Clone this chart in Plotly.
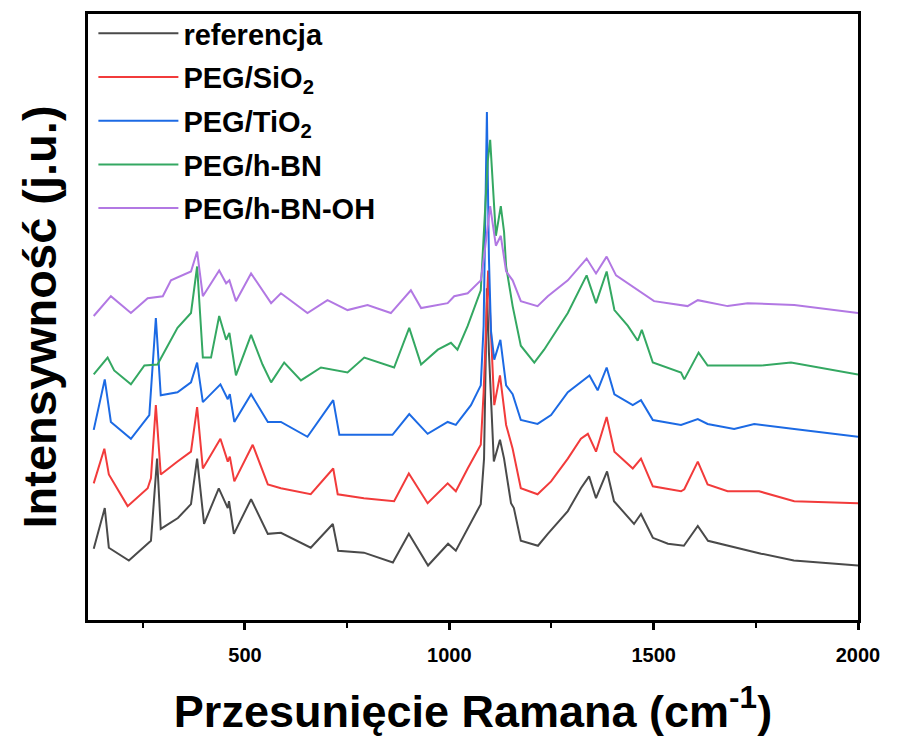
import plotly.graph_objects as go

# Raman shift (cm^-1) and intensity (a.u.)
ref_x = [130, 157, 167, 216, 270, 285, 294, 336, 368, 383, 400, 436, 458, 461, 473, 515, 556, 588, 661, 715, 728, 791, 862, 901, 948, 997, 1016, 1046, 1077, 1085, 1092, 1097, 1109, 1124, 1134, 1151, 1158, 1175, 1217, 1241, 1290, 1322, 1342, 1359, 1386, 1403, 1425, 1452, 1469, 1498, 1535, 1574, 1608, 1633, 1763, 1843, 2000]
ref_y = [72, 113, 73, 60, 80, 163, 92, 103, 117, 163, 97, 133, 113, 120, 87, 122, 87, 88, 73, 97, 70, 68, 58, 87, 55, 77, 70, 93, 117, 163, 335, 270, 160, 182, 163, 118, 113, 80, 75, 87, 110, 133, 145, 123, 150, 120, 110, 97, 107, 83, 77, 75, 95, 80, 67, 60, 55]

sio2_x = [130, 156, 167, 213, 262, 270, 282, 294, 335, 368, 383, 397, 440, 458, 463, 474, 519, 556, 588, 661, 716, 727, 791, 865, 901, 947, 996, 1016, 1045, 1077, 1084, 1095, 1110, 1124, 1139, 1155, 1175, 1216, 1249, 1290, 1322, 1339, 1359, 1385, 1404, 1449, 1469, 1498, 1567, 1575, 1608, 1632, 1681, 1758, 1844, 2000]
sio2_y = [138, 173, 147, 115, 133, 143, 217, 147, 160, 170, 215, 153, 183, 160, 165, 140, 177, 137, 133, 127, 153, 127, 123, 120, 148, 118, 138, 130, 153, 177, 230, 353, 217, 247, 197, 173, 133, 127, 140, 163, 183, 188, 170, 205, 170, 153, 163, 135, 130, 132, 160, 137, 130, 130, 120, 118]

tio2_x = [130, 157, 172, 221, 266, 282, 294, 335, 368, 383, 397, 440, 458, 463, 474, 515, 556, 588, 653, 716, 731, 791, 861, 902, 947, 996, 1016, 1053, 1077, 1084, 1090, 1092, 1097, 1102, 1110, 1125, 1139, 1155, 1175, 1216, 1249, 1290, 1343, 1363, 1385, 1404, 1449, 1469, 1498, 1567, 1608, 1632, 1697, 1746, 1844, 2000]
tio2_y = [192, 243, 200, 183, 207, 305, 227, 230, 240, 260, 220, 238, 223, 228, 200, 228, 200, 200, 185, 222, 187, 187, 187, 208, 188, 200, 197, 217, 237, 297, 467, 513, 365, 292, 263, 283, 237, 228, 202, 198, 207, 230, 247, 232, 255, 228, 217, 222, 202, 197, 203, 198, 193, 198, 193, 185]

hbn_x = [130, 164, 180, 221, 254, 286, 335, 368, 383, 397, 417, 437, 454, 462, 478, 515, 543, 564, 596, 637, 686, 751, 792, 865, 902, 931, 972, 1004, 1020, 1045, 1077, 1086, 1094, 1100, 1106, 1114, 1126, 1134, 1139, 1155, 1175, 1208, 1232, 1290, 1336, 1359, 1385, 1404, 1437, 1461, 1471, 1498, 1567, 1575, 1610, 1632, 1763, 1836, 2000]
hbn_y = [248, 265, 252, 238, 257, 258, 295, 310, 357, 265, 265, 307, 283, 290, 247, 288, 258, 240, 260, 242, 255, 250, 265, 255, 295, 258, 273, 280, 273, 297, 333, 397, 463, 485, 447, 388, 418, 392, 357, 317, 277, 260, 273, 310, 348, 320, 352, 313, 297, 282, 293, 260, 250, 243, 270, 257, 257, 260, 248]

hbnoh_x = [130, 172, 221, 262, 299, 319, 368, 383, 397, 437, 454, 462, 478, 515, 564, 588, 653, 702, 751, 800, 857, 906, 931, 996, 1012, 1045, 1077, 1086, 1100, 1114, 1126, 1139, 1155, 1175, 1216, 1241, 1290, 1336, 1359, 1385, 1408, 1453, 1501, 1583, 1608, 1681, 1730, 1844, 2000]
hbnoh_y = [307, 327, 310, 325, 327, 343, 352, 372, 327, 353, 340, 343, 322, 350, 320, 330, 310, 323, 313, 318, 310, 333, 315, 320, 327, 330, 343, 370, 418, 378, 388, 352, 343, 322, 317, 327, 343, 365, 350, 367, 348, 335, 322, 317, 323, 317, 320, 318, 310]

names = ["referencja", "PEG/SiO<sub>2</sub>", "PEG/TiO<sub>2</sub>", "PEG/h-BN", "PEG/h-BN-OH"]
colors = ["#4a4a4a", "#f23b3b", "#1c6ae4", "#34a862", "#b278e3"]
xs = [ref_x, sio2_x, tio2_x, hbn_x, hbnoh_x]
ys = [ref_y, sio2_y, tio2_y, hbn_y, hbnoh_y]

x_tickvals = [500, 1000, 1500, 2000]
x_ticktext = ["500", "1000", "1500", "2000"]

fig = go.Figure()
for i in range(5):
    fig.add_trace(go.Scatter(x=xs[i], y=ys[i], mode="lines", name=names[i],
                             legendgroup=f"g{i}",
                             line=dict(color=colors[i], width=2)))

FONT = "Liberation Sans"
fig.update_layout(
    width=912, height=738,
    margin=dict(l=88, r=54, t=8, b=118),
    paper_bgcolor="white", plot_bgcolor="white",
    showlegend=True,
    legend=dict(x=0.007, y=1.01, xanchor="left", yanchor="top",
                bgcolor="rgba(0,0,0,0)", borderwidth=0,
                font=dict(family=FONT, size=29, color="black", weight="bold"),
                tracegroupgap=3, itemwidth=80),
    xaxis=dict(range=[116, 2000], showgrid=False, zeroline=False,
               showline=True, linecolor="black", linewidth=3, mirror=True,
               ticks="outside", ticklen=7, tickwidth=2.5, tickcolor="black",
               tickvals=x_tickvals, ticktext=x_ticktext, ticklabelstandoff=8,
               minor=dict(tickvals=[250, 750, 1250, 1750], ticks="outside", ticklen=5, tickwidth=2, tickcolor="black"),
               tickfont=dict(family=FONT, size=20, color="black", weight="bold"),
               title=dict(text="Przesunięcie Ramana (cm<sup>-1</sup>)",
                          font=dict(family=FONT, size=45, color="black", weight="bold"),
                          standoff=31)),
    yaxis=dict(range=[0, 612], showgrid=False, zeroline=False,
               showline=True, linecolor="black", linewidth=3, mirror=True,
               ticks="", showticklabels=False,
               title=dict(text="Intensywność (j.u.)",
                         font=dict(family=FONT, size=47, color="black", weight="bold"),
                         standoff=14)),
)

fig.write_html("out.html")
